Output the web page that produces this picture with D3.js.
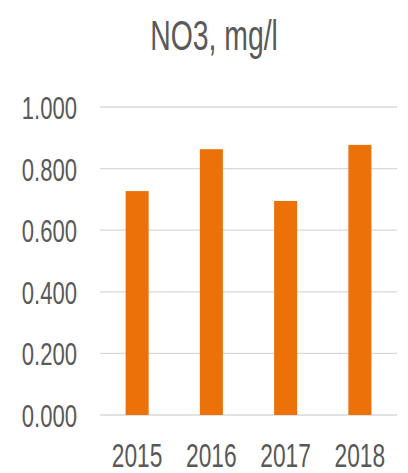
<!DOCTYPE html>
<html>
<head>
<meta charset="utf-8">
<script src="https://cdn.jsdelivr.net/npm/d3@7"></script>
<style>
  body { margin: 0; background: #fff; }
  text { font-family: "Liberation Sans", Arial, sans-serif; fill: #595959; }
</style>
</head>
<body>
<div id="chart"></div>
<script>
const years = ["2015", "2016", "2017", "2018"];
const values = [0.727, 0.863, 0.695, 0.877];
const yTicks = [0, 0.2, 0.4, 0.6, 0.8, 1.0];
const title = "NO3, mg/l";

const width = 408;
const height = 473;
const squeeze = 0.69;   // the picture's glyphs are narrow

const svg = d3.select("#chart")
    .append("svg")
    .attr("width", width)
    .attr("height", height);

const x = d3.scaleBand()
    .domain(years)
    .range([100, 397])
    .paddingInner(0.69)
    .paddingOuter(0.345);

const y = d3.scaleLinear()
    .domain([0, 1])
    .range([415, 107]);

// gridlines
svg.append("g")
    .selectAll("line")
    .data(yTicks)
    .enter()
    .append("line")
    .attr("x1", 100)
    .attr("x2", 397)
    .attr("y1", d => y(d))
    .attr("y2", d => y(d))
    .style("stroke", "#d9d9d9")
    .style("stroke-width", 1.3);

// y labels
svg.append("g")
    .selectAll("text")
    .data(yTicks)
    .enter()
    .append("text")
    .attr("transform", d => "translate(77," + (y(d) + 12) + ") scale(" + squeeze + ",1)")
    .attr("text-anchor", "end")
    .style("font-size", "32px")
    .text(d => d3.format(".3f")(d));

// bars
svg.append("g")
    .selectAll("rect")
    .data(values)
    .enter()
    .append("rect")
    .attr("x", (d, i) => x(years[i]))
    .attr("width", x.bandwidth())
    .attr("y", d => y(d))
    .attr("height", d => y(0) - y(d))
    .attr("fill", "#ED7109");

// x labels
svg.append("g")
    .selectAll("text")
    .data(years)
    .enter()
    .append("text")
    .attr("transform", d => "translate(" + (x(d) + x.bandwidth() / 2) + ",467) scale(" + squeeze + ",1)")
    .attr("text-anchor", "middle")
    .style("font-size", "33px")
    .text(d => d);

// title
svg.append("text")
    .attr("transform", "translate(214,50) scale(0.66,1)")
    .attr("text-anchor", "middle")
    .style("font-size", "43px")
    .text(title);
</script>
</body>
</html>
